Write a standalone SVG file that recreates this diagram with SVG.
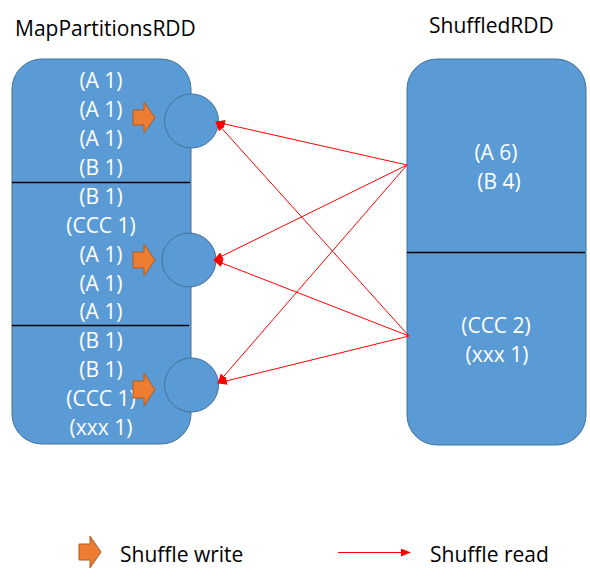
<svg xmlns="http://www.w3.org/2000/svg" width="590" height="584" viewBox="0 0 590 584">
<defs>
<style>
text{font-family:"Open Sans","Liberation Sans",sans-serif;font-size:21px}
.w{fill:#fff;text-anchor:middle}
.k{fill:#000}
.box{fill:#5B9BD5;stroke:#41719C;stroke-width:1}
.div{stroke:#000;stroke-width:1.3}
.sw{fill:#ED7D31;stroke:#AE5A21;stroke-width:1}
.rd{stroke:#FF0000;stroke-width:1;fill:none;marker-end:url(#ah)}
</style>
<marker id="ah" markerWidth="10" markerHeight="8" refX="9" refY="4" orient="auto" markerUnits="userSpaceOnUse">
<path d="M0,0 L10,4 L0,8 Z" fill="#FF0000"/>
</marker>
</defs>
<rect width="590" height="584" fill="#fff"/>
<g id="titles">
<text class="k" x="15" y="36">MapPartitionsRDD</text>
<text class="k" x="429" y="33">ShuffledRDD</text>
</g>
<g id="map-rdd">
<rect class="box" x="12" y="59" width="179" height="385" rx="30" ry="30"/>
<line class="div" x1="12" y1="182.5" x2="190" y2="182.5"/>
<line class="div" x1="12" y1="325.5" x2="189" y2="325.5"/>
<text class="w" x="101" y="88">(A 1)</text>
<text class="w" x="101" y="117">(A 1)</text>
<text class="w" x="101" y="146">(A 1)</text>
<text class="w" x="101" y="175">(B 1)</text>
<text class="w" x="101" y="204">(B 1)</text>
<text class="w" x="101" y="232.5">(CCC 1)</text>
<text class="w" x="101" y="261.5">(A 1)</text>
<text class="w" x="101" y="290.5">(A 1)</text>
<text class="w" x="101" y="319">(A 1)</text>
<text class="w" x="101" y="348">(B 1)</text>
<text class="w" x="101" y="377">(B 1)</text>
<text class="w" x="101" y="406">(CCC 1)</text>
<text class="w" x="101" y="434.5">(xxx 1)</text>
</g>
<g id="shuffle-write-arrows">
<path class="sw" d="M133,110 H144 V102 L155,117.5 L144,133 V125 H133 Z"/>
<path class="sw" d="M133,252 H144 V244 L155,260 L144,276 V268 H133 Z"/>
<path class="sw" d="M133,381 H144 V373 L155,389.5 L144,406 V398 H133 Z"/>
</g>
<g id="bucket1"><circle class="box" cx="191.5" cy="121" r="27"/></g>
<g id="bucket2"><circle class="box" cx="189" cy="260" r="27"/></g>
<g id="bucket3"><circle class="box" cx="191.5" cy="385" r="27"/></g>
<g id="shuffled-rdd">
<rect class="box" x="407" y="59" width="179" height="386" rx="30" ry="30"/>
<line class="div" x1="407" y1="252.5" x2="585" y2="252.5"/>
<text class="w" x="496" y="160">(A 6)</text>
<text class="w" x="499" y="189">(B 4)</text>
<text class="w" x="496" y="333">(CCC 2)</text>
<text class="w" x="497" y="362">(xxx 1)</text>
</g>
<g id="connectors">
<line class="rd" x1="407" y1="165" x2="216" y2="122"/>
<line class="rd" x1="407" y1="165" x2="214" y2="260"/>
<line class="rd" x1="407" y1="165" x2="218" y2="383"/>
<line class="rd" x1="409" y1="336" x2="216" y2="122"/>
<line class="rd" x1="409" y1="336" x2="214" y2="260"/>
<line class="rd" x1="409" y1="336" x2="218" y2="383"/>
</g>
<g id="legend">
<path class="sw" d="M79,544 H90 V536 L101,552 L90,568 V560 H79 Z"/>
<text class="k" x="120" y="562">Shuffle write</text>
<line class="rd" x1="338" y1="552.5" x2="410" y2="552.5"/>
<text class="k" x="430" y="562">Shuffle read</text>
</g>
</svg>
